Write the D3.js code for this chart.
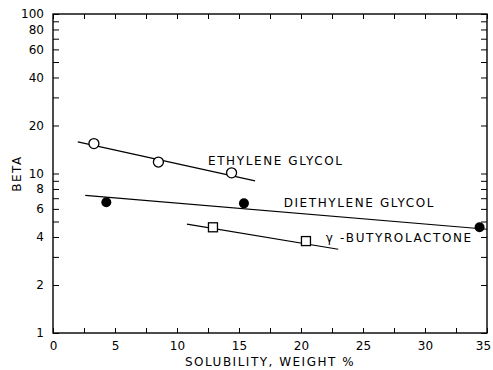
<!DOCTYPE html>
<html>
<head>
<meta charset="utf-8">
<script src="https://cdn.jsdelivr.net/npm/d3@7"></script>
<style>
  body { margin: 0; background: #fff; }
  text { font-family: "DejaVu Sans", sans-serif; fill: #000; }
</style>
</head>
<body>
<div id="app"></div>
<script>
const width = 493,
    height = 370;
const margin = {left: 53, right: 6, top: 14, bottom: 37};

// data
const ethyleneX = [3.3, 8.5, 14.4];
const ethyleneY = [15.4, 11.8, 10.1];
const ethyleneFitX = [2.0, 16.3];
const ethyleneFitY = [15.8, 9.0];

const diethyleneX = [4.3, 15.4, 34.4];
const diethyleneY = [6.6, 6.5, 4.6];
const diethyleneFitX = [2.6, 35];
const diethyleneFitY = [7.3, 4.47];

const butyroX = [12.9, 20.4];
const butyroY = [4.6, 3.77];
const butyroFitX = [10.8, 23.0];
const butyroFitY = [4.82, 3.35];

const xTicks = [0, 5, 10, 15, 20, 25, 30, 35];
const xMinor = [2.5, 7.5, 12.5, 17.5, 22.5, 27.5, 32.5];
const yTickLabels = [1, 2, 4, 6, 8, 10, 20, 40, 60, 80, 100];
const yTicksAll = [1, 2, 3, 4, 5, 6, 7, 8, 9, 10, 20, 30, 40, 50, 60, 70, 80, 90, 100];

const labels = [
    {text: "ETHYLENE GLYCOL", x: 12.5, y: 12.0},
    {text: "DIETHYLENE GLYCOL", x: 18.6, y: 6.55},
    {text: "\u03b3 -BUTYROLACTONE", x: 22.0, y: 3.95}
];

const x = d3.scaleLinear().domain([0, 35]).range([margin.left, width - margin.right]);
const y = d3.scaleLog().domain([1, 100]).range([height - margin.bottom, margin.top]);

const svg = d3.select("#app")
    .append("svg")
    .attr("width", width)
    .attr("height", height);

// frame
svg.append("rect")
    .attr("x", x(0))
    .attr("y", y(100))
    .attr("width", x(35) - x(0))
    .attr("height", y(1) - y(100))
    .attr("fill", "none")
    .attr("stroke", "#000")
    .attr("stroke-width", 1.4);

// bottom axis, ticks inward
svg.append("g")
    .attr("transform", `translate(0, ${y(1)})`)
    .call(d3.axisBottom(x).tickValues(xTicks.concat(xMinor)).tickSizeInner(-5).tickSizeOuter(0).tickPadding(8)
        .tickFormat(d => xTicks.includes(d) ? d : ""))
    .call(g => g.select(".domain").remove())
    .call(g => g.selectAll("text").attr("font-size", 12))
    .call(g => g.selectAll("text").filter(d => d === 35).attr("dx", -4));

// top axis ticks
svg.append("g")
    .attr("transform", `translate(0, ${y(100)})`)
    .call(d3.axisTop(x).tickValues(xTicks.concat(xMinor)).tickSizeInner(-5).tickSizeOuter(0).tickFormat(""))
    .call(g => g.select(".domain").remove());

// left axis
svg.append("g")
    .attr("transform", `translate(${x(0)}, 0)`)
    .call(d3.axisLeft(y).tickValues(yTicksAll).tickSizeInner(-6).tickSizeOuter(0).tickPadding(9)
        .tickFormat(d => yTickLabels.includes(d) ? d : ""))
    .call(g => g.select(".domain").remove())
    .call(g => g.selectAll("text").attr("font-size", 12));

// right axis ticks
svg.append("g")
    .attr("transform", `translate(${x(35)}, 0)`)
    .call(d3.axisRight(y).tickValues(yTicksAll).tickSizeInner(-6).tickSizeOuter(0).tickFormat(""))
    .call(g => g.select(".domain").remove());

// axis titles
svg.append("text")
    .attr("x", (x(0) + x(35)) / 2)
    .attr("y", 366)
    .attr("text-anchor", "middle")
    .attr("font-size", 12)
    .attr("letter-spacing", 1.5)
    .text("SOLUBILITY, WEIGHT %");

svg.append("text")
    .attr("transform", `translate(21, ${y(10)}) rotate(-90)`)
    .attr("text-anchor", "middle")
    .attr("font-size", 12)
    .attr("letter-spacing", 1.5)
    .text("BETA");

// fit lines
const fits = [
    [ethyleneFitX, ethyleneFitY],
    [diethyleneFitX, diethyleneFitY],
    [butyroFitX, butyroFitY]
];
svg.append("g").selectAll("line")
    .data(fits).enter()
    .append("line")
    .attr("x1", d => x(d[0][0]))
    .attr("y1", d => y(d[1][0]))
    .attr("x2", d => x(d[0][1]))
    .attr("y2", d => y(d[1][1]))
    .attr("stroke", "#000")
    .attr("stroke-width", 1.2);

// ethylene glycol, open circles
svg.append("g").selectAll("circle")
    .data(d3.zip(ethyleneX, ethyleneY)).enter()
    .append("circle")
    .attr("r", 5)
    .attr("cx", d => x(d[0]))
    .attr("cy", d => y(d[1]))
    .attr("fill", "#fff")
    .attr("stroke", "#000")
    .attr("stroke-width", 1.3);

// diethylene glycol, filled circles
svg.append("g").selectAll("circle")
    .data(d3.zip(diethyleneX, diethyleneY)).enter()
    .append("circle")
    .attr("r", 5)
    .attr("cx", d => x(d[0]))
    .attr("cy", d => y(d[1]))
    .attr("fill", "#000");

// butyrolactone, open squares
svg.append("g").selectAll("rect")
    .data(d3.zip(butyroX, butyroY)).enter()
    .append("rect")
    .attr("x", d => x(d[0]) - 4.5)
    .attr("y", d => y(d[1]) - 4.5)
    .attr("width", 9)
    .attr("height", 9)
    .attr("fill", "#fff")
    .attr("stroke", "#000")
    .attr("stroke-width", 1.3);

// series labels
svg.append("g").selectAll("text")
    .data(labels).enter()
    .append("text")
    .attr("x", d => x(d.x))
    .attr("y", d => y(d.y))
    .attr("dy", "0.35em")
    .attr("font-size", 12)
    .attr("letter-spacing", 1.6)
    .text(d => d.text);
</script>
</body>
</html>
